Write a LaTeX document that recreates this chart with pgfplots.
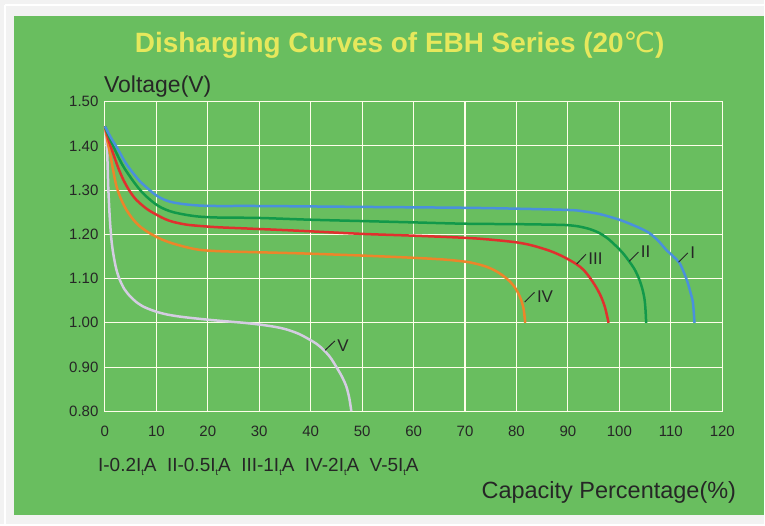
\documentclass[border=0pt]{standalone}
\usepackage{fontspec}
\setmainfont{Liberation Sans}
\newfontfamily\djv{DejaVu Sans}
\usepackage{pgfplots}
\pgfplotsset{compat=1.18}
\definecolor{panel}{HTML}{69BE5F}
\definecolor{outer}{HTML}{F2F2F2}
\definecolor{ttl}{HTML}{E6E85C}
\definecolor{txt}{HTML}{262626}
\definecolor{cI}{HTML}{4A90DC}
\definecolor{cII}{HTML}{12994A}
\definecolor{cIII}{HTML}{E0302E}
\definecolor{cIV}{HTML}{EC852A}
\definecolor{cV}{HTML}{D4CCE2}
\newcommand{\It}{I\raisebox{-0.35ex}{\fontsize{9}{10}\selectfont t}}
\begin{document}
\begin{tikzpicture}[x=1pt,y=1pt]
\fill[outer] (0,0) rectangle (765,-525);
\draw[white,line width=1.5pt] (5,-5) -- (765,-5);
\draw[white,line width=1.5pt] (5,-5) -- (5,-525);
\fill[panel] (14,-16) rectangle (765,-515);
\node[text=ttl,font=\bfseries\fontsize{26}{30}\selectfont] at (400,-45)
  {\resizebox{530pt}{!}{Disharging Curves of EBH Series (20{\djv\mdseries ℃})}};
\node[anchor=base west,text=txt,font=\fontsize{23}{26}\selectfont,inner sep=0] at (104,-93) {Voltage(V)};
\node[anchor=base east,text=txt,font=\fontsize{23.5}{26}\selectfont,inner sep=0] at (737,-499) {Capacity Percentage(\%)};
\node[anchor=base west,text=txt,font=\fontsize{19}{21}\selectfont,inner sep=0] at (98,-472)
  {I-0.2\It A\ \ II-0.5\It A\ \ III-1\It A\ \ IV-2\It A\ \ V-5\It A};
\begin{axis}[
  at={(105pt,-411.7pt)}, anchor=south west,
  scale only axis, width=618pt, height=310pt,
  xmin=0, xmax=120, ymin=0.8, ymax=1.5,
  xtick={0,10,...,120}, ytick={0.8,0.9,...,1.5},
  yticklabel style={/pgf/number format/fixed,/pgf/number format/fixed zerofill,/pgf/number format/precision=2,xshift=-3pt},
  /pgf/number format/assume math mode=true,
  ticklabel style={text=txt,font=\fontsize{15}{17}\selectfont},
  xticklabel style={yshift=-11pt},
  grid=major, major grid style={white!92!yellow,line width=1.1pt},
  axis line style={white!92!yellow,line width=1.1pt},
  major tick length=0pt,
  clip=false,
  every axis plot/.append style={line width=2.5pt,smooth,no marks},
]
\addplot[cV] coordinates {(0,1.444)(0.2,1.42)(0.45,1.383)(0.65,1.308)(0.8,1.27)(0.97,1.233)(1.25,1.19)(1.6,1.158)(2.2,1.122)(2.9,1.097)(3.8,1.076)(4.9,1.06)(6.1,1.047)(7.4,1.037)(8.8,1.03)(10.3,1.024)(12,1.019)(14,1.015)(16,1.012)(18.4,1.009)(21,1.006)(24,1.003)(27,1.0)(30.1,0.996)(33,0.991)(35.3,0.985)(37.7,0.975)(39.8,0.962)(41.2,0.952)(42.4,0.94)(43.8,0.922)(45,0.90)(46,0.88)(46.9,0.857)(47.5,0.83)(47.9,0.80)};
\addplot[cIV] coordinates {(0,1.444)(0.5,1.41)(1,1.383)(1.6,1.345)(2.27,1.308)(3.2,1.278)(4.2,1.255)(5.4,1.235)(6.8,1.218)(8.5,1.204)(10.4,1.192)(11.8,1.185)(13.3,1.179)(15.8,1.171)(18.4,1.165)(22,1.162)(28,1.160)(37.9,1.157)(50,1.152)(59.9,1.147)(66,1.143)(70.2,1.138)(72.3,1.133)(74.1,1.127)(75.5,1.12)(76.7,1.112)(78.1,1.10)(79.3,1.086)(80.2,1.07)(80.9,1.052)(81.4,1.03)(81.7,1.0)};
\addplot[cIII] coordinates {(0,1.444)(0.8,1.41)(1.6,1.383)(2.6,1.35)(3.6,1.323)(4.8,1.298)(6.1,1.278)(8.2,1.257)(10.4,1.242)(11.8,1.234)(13.3,1.228)(15.8,1.222)(18.4,1.219)(22,1.216)(28,1.213)(37.9,1.208)(50,1.201)(59.9,1.197)(70.2,1.192)(75,1.188)(79.9,1.182)(83,1.175)(86.4,1.163)(89,1.150)(91.6,1.133)(93,1.120)(94.2,1.103)(95.4,1.082)(96.4,1.06)(97.2,1.035)(97.9,1.0)};
\addplot[cII] coordinates {(0,1.444)(1.1,1.413)(2.27,1.383)(3.5,1.355)(4.85,1.331)(6.1,1.311)(7.4,1.293)(8.9,1.277)(10.4,1.264)(11.8,1.256)(13.3,1.250)(15.8,1.244)(18.4,1.240)(22,1.238)(30,1.237)(40,1.233)(50,1.230)(60,1.227)(70,1.224)(80,1.223)(86,1.222)(89.6,1.221)(92,1.218)(94.2,1.212)(96.1,1.203)(97.8,1.19)(99.4,1.173)(100.8,1.156)(101.9,1.139)(103,1.12)(103.9,1.097)(104.5,1.075)(104.9,1.052)(105.1,1.025)(105.2,1.0)};
\addplot[cI] coordinates {(0,1.444)(1.2,1.418)(2.6,1.391)(4,1.362)(5.5,1.338)(6.8,1.320)(8.1,1.306)(9.3,1.294)(10.4,1.285)(11.8,1.277)(13.3,1.272)(15.5,1.268)(18.4,1.265)(22,1.264)(30,1.264)(50,1.262)(70,1.260)(80,1.258)(90.3,1.255)(93,1.252)(96.1,1.246)(98,1.240)(100,1.233)(102,1.224)(104,1.214)(105.8,1.203)(107.5,1.186)(109.1,1.165)(110.5,1.150)(111.7,1.135)(112.6,1.112)(113.3,1.09)(113.9,1.065)(114.3,1.045)(114.6,1.0)};
\draw[txt,line width=1pt] (axis cs:111.5,1.137) -- (axis cs:113.3,1.158) node[anchor=west,font=\fontsize{17}{19}\selectfont,text=txt,inner sep=2pt] {I};
\draw[txt,line width=1pt] (axis cs:101.9,1.139) -- (axis cs:103.7,1.160) node[anchor=west,font=\fontsize{17}{19}\selectfont,text=txt,inner sep=2pt] {II};
\draw[txt,line width=1pt] (axis cs:91.7,1.133) -- (axis cs:93.5,1.155) node[anchor=north west,font=\fontsize{17}{19}\selectfont,text=txt,inner sep=2pt,yshift=4pt] {III};
\draw[txt,line width=1pt] (axis cs:81.6,1.047) -- (axis cs:83.5,1.069) node[anchor=north west,font=\fontsize{17}{19}\selectfont,text=txt,inner sep=2pt,yshift=4pt] {IV};
\draw[txt,line width=1pt] (axis cs:42.8,0.938) -- (axis cs:44.7,0.959) node[anchor=north west,font=\fontsize{17}{19}\selectfont,text=txt,inner sep=2pt,yshift=4pt] {V};
\end{axis}
\end{tikzpicture}
\end{document}
